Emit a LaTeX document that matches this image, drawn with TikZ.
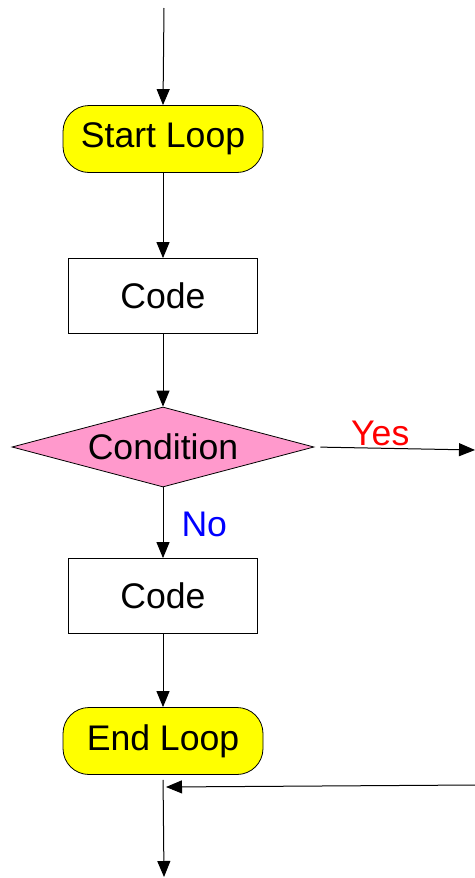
\documentclass[tikz,border=0pt]{standalone}
\usepackage{fontspec}
\setmainfont{Liberation Sans}
\usepackage{tikz}
\usetikzlibrary{arrows.meta, shapes.geometric}
\definecolor{loopyellow}{HTML}{FFFF00}
\definecolor{condpink}{HTML}{FF99CC}

\begin{document}
\begin{tikzpicture}[x=0.5pt, y=-0.5pt,
  font=\fontsize{17.8}{21}\selectfont,
  loopbox/.style={draw, fill=loopyellow, rounded corners=13pt, minimum width=100pt, minimum height=33.5pt, inner sep=0pt},
  codebox/.style={draw, fill=white, minimum width=94.5pt, minimum height=37.5pt, inner sep=0pt},
  condbox/.style={draw, fill=condpink, diamond, aspect=3.775, minimum width=151pt, minimum height=40pt, inner sep=0pt},
  flow/.style={line width=0.5pt, -{Triangle[length=8pt, width=6.5pt]}}]
\useasboundingbox (0,0) rectangle (475,878);
\coordinate (top) at (164,8);
\coordinate (yesend) at (475,450);
\coordinate (back) at (475,785);
\coordinate (merge) at (166,787);
\coordinate (bottom) at (164,877);
\node[loopbox] (start) at (163,139) {Start Loop};
\node[codebox] (code1) at (163,296) {Code};
\node[condbox] (cond) at (163,447) {Condition};
\node[codebox] (code2) at (163,596) {Code};
\node[loopbox] (endloop) at (163,741) {End Loop};
\draw[flow] (top) -- (start.north);
\draw[flow] (start) -- (code1);
\draw[flow] (code1) -- (cond);
\draw[flow] (cond) -- node[pos=0.53, right=9pt, inner sep=0pt, text=blue]{No} (code2);
\draw[flow] (code2) -- (endloop);
\draw[flow, shorten <=3pt] (cond.east) -- node[pos=0.41, above, inner sep=1pt, text=red]{Yes} (yesend);
\draw[flow] (back) -- (merge);
\draw[flow, shorten <=2.5pt] (endloop.south) -- (bottom);
\end{tikzpicture}
\end{document}
